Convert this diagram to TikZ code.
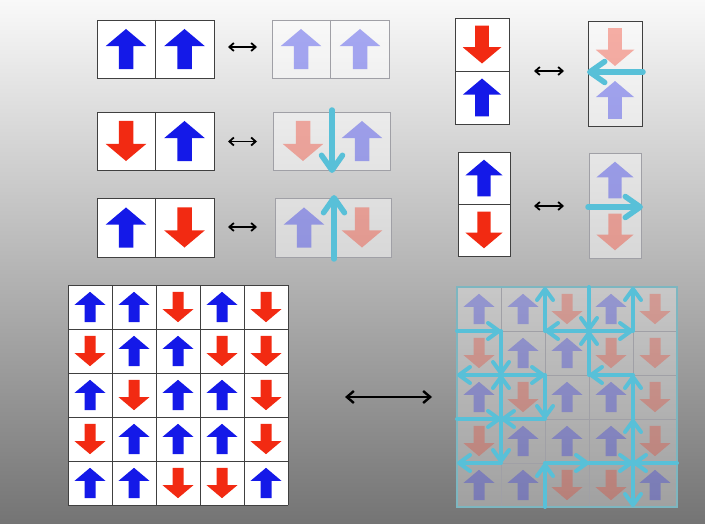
\documentclass[tikz,border=0pt]{standalone}
\usetikzlibrary{arrows.meta}
\definecolor{spinblue}{RGB}{20,25,232}
\definecolor{spinred}{RGB}{242,42,18}
\definecolor{wallcyan}{RGB}{88,192,216}
\definecolor{fadeline}{RGB}{160,160,166}
\definecolor{gridcyan}{RGB}{125,182,192}
% block arrow: #1 options, #2 x, #3 y, #4 size, #5 direction (1 up, -1 down)
\newcommand\spinarr[5]{\fill[#1] ({#2},{(#3)+(#5)*0.345*(#4)}) -- ({(#2)+0.35*(#4)},{(#3)+(#5)*0.05*(#4)}) -- ({(#2)+0.125*(#4)},{(#3)+(#5)*0.05*(#4)}) -- ({(#2)+0.125*(#4)},{(#3)-(#5)*0.345*(#4)}) -- ({(#2)-0.125*(#4)},{(#3)-(#5)*0.345*(#4)}) -- ({(#2)-0.125*(#4)},{(#3)+(#5)*0.05*(#4)}) -- ({(#2)-0.35*(#4)},{(#3)+(#5)*0.05*(#4)}) -- cycle;}
\newcommand\spin[5]{\ifnum#5=1 \spinarr{spinblue,#1}{#2}{#3}{#4}{1}\else\spinarr{spinred,#1}{#2}{#3}{#4}{-1}\fi}
\tikzset{
  boxline/.style={draw=black!75, line width=0.9pt},
  cellfill/.style={fill=white},
  fadefill/.style={fill=white, fill opacity=0.45},
  fadeline/.style={draw=fadeline, line width=0.8pt},
  faded/.style={fill opacity=0.36},
  wall/.style={draw=wallcyan, line width=4pt, line cap=round, -{Straight Barb[length=11pt,width=16pt,round]}},
  bigwall/.style={draw=wallcyan, line width=5.5pt, line cap=round, -{Straight Barb[length=15pt,width=21pt,round]}},
  dbl/.style={line width=1.8pt, {Straight Barb[length=4.5pt,width=8pt]}-{Straight Barb[length=4.5pt,width=8pt]}},
  bigdbl/.style={line width=2.4pt, {Straight Barb[length=7pt,width=12pt]}-{Straight Barb[length=7pt,width=12pt]}},
}
\begin{document}
\begin{tikzpicture}[x=1pt,y=1pt]
\useasboundingbox (0,0) rectangle (705,-524);
\shade[top color={rgb,255:red,249;green,249;blue,249}, middle color={rgb,255:red,208;green,208;blue,208}, bottom color={rgb,255:red,116;green,116;blue,116}] (0,0) rectangle (705,-524);

% ---------- top-left pairs ----------
% row 1
\fill[cellfill] (97,-20) rectangle (214,-78);
\spin{}{126}{-49}{58}{1}
\spin{}{184.5}{-49}{58}{1}
\draw[boxline] (97,-20) rectangle (214,-78) (155,-20) -- (155,-78);
\fill[fadefill] (272,-20) rectangle (389,-78);
\spin{faded}{301}{-49}{58}{1}
\spin{faded}{360}{-49}{58}{1}
\draw[fadeline] (272,-20) rectangle (389,-78) (330.5,-20) -- (330.5,-78);
% row 2
\fill[cellfill] (97,-112) rectangle (214,-170);
\spin{}{126}{-141}{58}{-1}
\spin{}{184.5}{-141}{58}{1}
\draw[boxline] (97,-112) rectangle (214,-170) (155,-112) -- (155,-170);
\fill[fadefill] (273,-112) rectangle (390,-170);
\spin{faded}{303}{-141}{58}{-1}
\spin{faded}{362}{-141}{58}{1}
\draw[fadeline] (273,-112) rectangle (390,-170) (331.5,-112) -- (331.5,-170);
\coordinate (w2a) at (332,-110);
\coordinate (w2b) at (332,-173);
\draw[bigwall] (w2a) -- (w2b);
% row 3
\fill[cellfill] (97,-198) rectangle (214,-257);
\spin{}{126}{-227.5}{58}{1}
\spin{}{184.5}{-227.5}{58}{-1}
\draw[boxline] (97,-198) rectangle (214,-257) (155,-198) -- (155,-257);
\fill[fadefill] (275,-198) rectangle (391,-257);
\spin{faded}{304}{-227.5}{58}{1}
\spin{faded}{362}{-227.5}{58}{-1}
\draw[fadeline] (275,-198) rectangle (391,-257) (333,-198) -- (333,-257);
\coordinate (w3a) at (334,-259);
\coordinate (w3b) at (334,-195);
\draw[bigwall] (w3a) -- (w3b);
% double arrows
\coordinate (d1a) at (228,-47);   \coordinate (d1b) at (257,-47);
\coordinate (d2a) at (228,-141.5);\coordinate (d2b) at (257,-141.5);
\coordinate (d3a) at (228,-227);  \coordinate (d3b) at (257,-227);
\draw[dbl] (d1a) -- (d1b);
\draw[dbl] (d2a) -- (d2b);
\draw[dbl] (d3a) -- (d3b);

% ---------- top-right pairs ----------
\fill[cellfill] (455,-18) rectangle (509,-124);
\spin{}{482}{-44.5}{55}{-1}
\spin{}{482}{-97.5}{55}{1}
\draw[boxline] (455,-18) rectangle (509,-124) (455,-71) -- (509,-71);
\fill[fadefill] (588,-21) rectangle (642,-126);
\spin{faded}{615}{-47}{55}{-1}
\spin{faded}{615}{-100}{55}{1}
\draw[boxline] (588,-21) rectangle (642,-126);
\coordinate (wAa) at (643,-72);
\coordinate (wAb) at (587,-72);
\draw[bigwall] (wAa) -- (wAb);

\fill[cellfill] (458,-152) rectangle (510,-256);
\spin{}{484}{-178}{53}{1}
\spin{}{484}{-230}{53}{-1}
\draw[boxline] (458,-152) rectangle (510,-256) (458,-204) -- (510,-204);
\fill[fadefill] (589,-153) rectangle (641,-258);
\spin{faded}{615}{-180}{53}{1}
\spin{faded}{615}{-232}{53}{-1}
\draw[fadeline] (589,-153) rectangle (641,-258);
\coordinate (wBa) at (588,-207);
\coordinate (wBb) at (643,-207);
\draw[bigwall] (wBa) -- (wBb);

\coordinate (d4a) at (534,-71);  \coordinate (d4b) at (564,-71);
\coordinate (d5a) at (534,-206); \coordinate (d5b) at (564,-206);
\draw[dbl] (d4a) -- (d4b);
\draw[dbl] (d5a) -- (d5b);

% ---------- bottom grids ----------
\fill[cellfill] (68,-285) rectangle (288,-505);
\foreach \r/\row in {1/{1,1,-1,1,-1},2/{-1,1,1,-1,-1},3/{1,-1,1,1,-1},4/{-1,1,1,1,-1},5/{1,1,-1,-1,1}}{
  \foreach \d [count=\c] in \row {
    \spin{}{68+44*\c-22}{-285-44*\r+22}{44}{\d}
  }
}
\draw[boxline, line width=0.8pt, shift={(68,-505)}] (0,0) grid[step=44] (220,220);

\fill[fadefill, fill opacity=0.3] (457,-287) rectangle (677,-507);
\foreach \r/\row in {1/{1,1,-1,1,-1},2/{-1,1,1,-1,-1},3/{1,-1,1,1,-1},4/{-1,1,1,1,-1},5/{1,1,-1,-1,1}}{
  \foreach \d [count=\c] in \row {
    \spin{fill opacity=0.28}{457+44*\c-22}{-287-44*\r+22}{44}{\d}
  }
}
\draw[fadeline, line width=0.6pt, shift={(457,-507)}] (0,0) grid[step=44] (220,220);
\draw[draw=gridcyan, line width=1.3pt] (457,-287) rectangle (677,-507);

% vertices of the right grid
\foreach \i in {0,...,5}{
  \foreach \j in {0,...,5}{
    \coordinate (v-\i-\j) at (457+44*\i,-287-44*\j);
  }
}
% vertical walls
\draw[wall] (v-2-1) -- (v-2-0);
\draw[wall] (v-3-0) -- (v-3-1);
\draw[wall] (v-4-1) -- (v-4-0);
\draw[wall] (v-1-1) -- (v-1-2);
\draw[wall] (v-3-2) -- (v-3-1);
\draw[wall] (v-1-3) -- (v-1-2);
\draw[wall] (v-2-2) -- (v-2-3);
\draw[wall] (v-4-3) -- (v-4-2);
\draw[wall] (v-1-3) -- (v-1-4);
\draw[wall] (v-4-4) -- (v-4-3);
\draw[wall] (v-2-5) -- (v-2-4);
\draw[wall] (v-4-4) -- (v-4-5);
% horizontal walls
\draw[wall] (v-0-1) -- (v-1-1);
\draw[wall] (v-3-1) -- (v-2-1);
\draw[wall] (v-3-1) -- (v-4-1);
\draw[wall] (v-1-2) -- (v-0-2);
\draw[wall] (v-1-2) -- (v-2-2);
\draw[wall] (v-4-2) -- (v-3-2);
\draw[wall] (v-0-3) -- (v-1-3);
\draw[wall] (v-2-3) -- (v-1-3);
\draw[wall] (v-1-4) -- (v-0-4);
\draw[wall] (v-2-4) -- (v-3-4);
\draw[wall] (v-3-4) -- (v-4-4);
\draw[wall] (v-5-4) -- (v-4-4);

\coordinate (d6a) at (345,-397); \coordinate (d6b) at (432,-397);
\draw[bigdbl] (d6a) -- (d6b);
\end{tikzpicture}
\end{document}
